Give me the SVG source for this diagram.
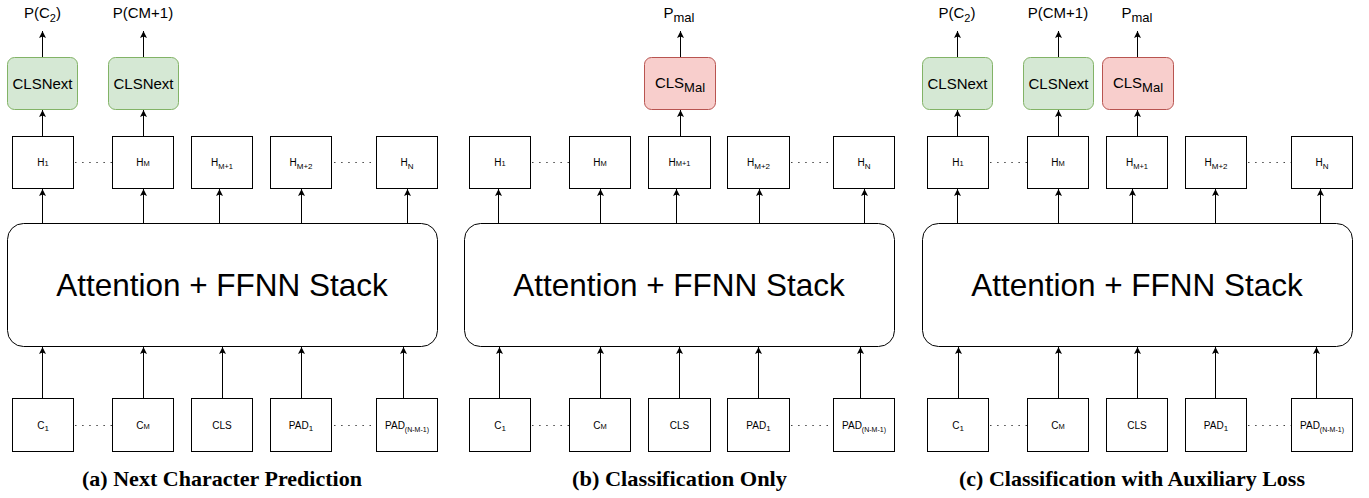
<svg xmlns="http://www.w3.org/2000/svg" width="1369" height="498" viewBox="0 0 1369 498">
<defs>
<marker id="ah" markerUnits="userSpaceOnUse" markerWidth="8" markerHeight="8" refX="7" refY="3.5" orient="auto">
<path d="M0,0 L7,3.5 L0,7 L1.5,3.5 z" fill="#000"/>
</marker>
<style>
.box{fill:#fff;stroke:#000;stroke-width:1}
.stack{fill:#fff;stroke:#000;stroke-width:1}
.green{fill:#d5e8d4;stroke:#82b366;stroke-width:1}
.red{fill:#f8cecc;stroke:#b85450;stroke-width:1}
text{font-family:"Liberation Sans",Arial,Helvetica,sans-serif;fill:#000;text-anchor:middle}
.s10{font-size:10px}
.s15{font-size:15px}
.big{font-size:31.5px}
.cap{font-family:"Liberation Serif","Times New Roman",serif;font-weight:bold;font-size:21px}
.edge{stroke:#000;stroke-width:1;fill:none;marker-end:url(#ah)}
.dot{stroke:#444;stroke-width:1.2;stroke-dasharray:1.5 5.6;fill:none}
</style>
</defs>

<!-- ================= Panel (a) ================= -->
<g id="panel-a">
<g id="a-out1"><text class="s15" x="42.5" y="18">P(C<tspan font-size="11" dy="4">2</tspan><tspan dy="-4">)</tspan></text></g>
<g id="a-out2"><text class="s15" x="143" y="18">P(CM+1)</text></g>
<g id="a-clsnext1"><rect class="green" x="7.5" y="57.5" width="70" height="52" rx="7"/><text class="s15" x="42.5" y="89">CLSNext</text></g>
<g id="a-clsnext2"><rect class="green" x="108.5" y="57.5" width="70" height="52" rx="7"/><text class="s15" x="143.5" y="89">CLSNext</text></g>
<g id="a-h1"><rect class="box" x="12.5" y="136.5" width="61" height="52"/><text class="s10" x="43" y="166">H<tspan font-size="7.5">1</tspan></text></g>
<g id="a-hm"><rect class="box" x="112.5" y="136.5" width="61" height="52"/><text class="s10" x="143" y="166">H<tspan font-size="7.5">M</tspan></text></g>
<g id="a-hm1"><rect class="box" x="191.5" y="136.5" width="61" height="52"/><text class="s10" x="222" y="166">H<tspan font-size="7.5" dy="3">M+1</tspan></text></g>
<g id="a-hm2"><rect class="box" x="270.5" y="136.5" width="61" height="52"/><text class="s10" x="301" y="166">H<tspan font-size="8" dy="3">M+2</tspan></text></g>
<g id="a-hn"><rect class="box" x="376.5" y="136.5" width="61" height="52"/><text class="s10" x="407" y="166">H<tspan font-size="8" dy="3">N</tspan></text></g>
<g id="a-stack"><rect class="stack" x="7.5" y="223.5" width="430" height="123" rx="16"/><text class="big" x="222" y="296">Attention + FFNN Stack</text></g>
<g id="a-c1"><rect class="box" x="12.5" y="398.5" width="61" height="53"/><text class="s10" x="43" y="429">C<tspan font-size="8" dy="2">1</tspan></text></g>
<g id="a-cm"><rect class="box" x="112.5" y="398.5" width="61" height="53"/><text class="s10" x="143" y="429">C<tspan font-size="7.5">M</tspan></text></g>
<g id="a-cls"><rect class="box" x="191.5" y="398.5" width="61" height="53"/><text class="s10" x="222" y="429">CLS</text></g>
<g id="a-pad1"><rect class="box" x="270.5" y="398.5" width="61" height="53"/><text class="s10" x="301" y="429">PAD<tspan font-size="8" dy="2">1</tspan></text></g>
<g id="a-padn"><rect class="box" x="376.5" y="398.5" width="61" height="53"/><text class="s10" x="407" y="429">PAD<tspan font-size="7" dy="3">(N-M-1)</tspan></text></g>
<g id="a-caption"><text class="cap" x="222" y="486" textLength="280" lengthAdjust="spacingAndGlyphs">(a) Next Character Prediction</text></g>
</g>

<!-- ================= Panel (b) ================= -->
<g id="panel-b">
<g id="b-out"><text class="s15" x="679" y="18">P<tspan font-size="13" dy="4">mal</tspan></text></g>
<g id="b-clsmal"><rect class="red" x="644.5" y="57.5" width="71" height="52" rx="7"/><text class="s15" x="680" y="88">CLS<tspan font-size="13" dy="4">Mal</tspan></text></g>
<g id="b-h1"><rect class="box" x="469.5" y="136.5" width="61" height="52"/><text class="s10" x="500" y="166">H<tspan font-size="7.5">1</tspan></text></g>
<g id="b-hm"><rect class="box" x="569.5" y="136.5" width="61" height="52"/><text class="s10" x="600" y="166">H<tspan font-size="7.5">M</tspan></text></g>
<g id="b-hm1"><rect class="box" x="648.5" y="136.5" width="62" height="52"/><text class="s10" x="679.5" y="166">H<tspan font-size="7.5">M+1</tspan></text></g>
<g id="b-hm2"><rect class="box" x="727.5" y="136.5" width="62" height="52"/><text class="s10" x="758.5" y="166">H<tspan font-size="8" dy="3">M+2</tspan></text></g>
<g id="b-hn"><rect class="box" x="833.5" y="136.5" width="61" height="52"/><text class="s10" x="864" y="166">H<tspan font-size="8" dy="3">N</tspan></text></g>
<g id="b-stack"><rect class="stack" x="464.5" y="223.5" width="430" height="123" rx="16"/><text class="big" x="679" y="296">Attention + FFNN Stack</text></g>
<g id="b-c1"><rect class="box" x="469.5" y="398.5" width="61" height="53"/><text class="s10" x="500" y="429">C<tspan font-size="8" dy="2">1</tspan></text></g>
<g id="b-cm"><rect class="box" x="569.5" y="398.5" width="61" height="53"/><text class="s10" x="600" y="429">C<tspan font-size="7.5">M</tspan></text></g>
<g id="b-cls"><rect class="box" x="648.5" y="398.5" width="62" height="53"/><text class="s10" x="679.5" y="429">CLS</text></g>
<g id="b-pad1"><rect class="box" x="727.5" y="398.5" width="62" height="53"/><text class="s10" x="758.5" y="429">PAD<tspan font-size="8" dy="2">1</tspan></text></g>
<g id="b-padn"><rect class="box" x="833.5" y="398.5" width="61" height="53"/><text class="s10" x="864" y="429">PAD<tspan font-size="7" dy="3">(N-M-1)</tspan></text></g>
<g id="b-caption"><text class="cap" x="679.5" y="486" textLength="215" lengthAdjust="spacingAndGlyphs">(b) Classification Only</text></g>
</g>

<!-- ================= Panel (c) ================= -->
<g id="panel-c">
<g id="c-out1"><text class="s15" x="957" y="18">P(C<tspan font-size="11" dy="4">2</tspan><tspan dy="-4">)</tspan></text></g>
<g id="c-out2"><text class="s15" x="1058" y="18">P(CM+1)</text></g>
<g id="c-out3"><text class="s15" x="1137" y="18">P<tspan font-size="13" dy="4">mal</tspan></text></g>
<g id="c-clsnext1"><rect class="green" x="922.5" y="57.5" width="70" height="52" rx="7"/><text class="s15" x="957.5" y="89">CLSNext</text></g>
<g id="c-clsnext2"><rect class="green" x="1023.5" y="57.5" width="70" height="52" rx="7"/><text class="s15" x="1058.5" y="89">CLSNext</text></g>
<g id="c-clsmal"><rect class="red" x="1102.5" y="57.5" width="71" height="52" rx="7"/><text class="s15" x="1138" y="88">CLS<tspan font-size="13" dy="4">Mal</tspan></text></g>
<g id="c-h1"><rect class="box" x="927.5" y="136.5" width="61" height="52"/><text class="s10" x="958" y="166">H<tspan font-size="7.5">1</tspan></text></g>
<g id="c-hm"><rect class="box" x="1027.5" y="136.5" width="61" height="52"/><text class="s10" x="1058" y="166">H<tspan font-size="7.5">M</tspan></text></g>
<g id="c-hm1"><rect class="box" x="1106.5" y="136.5" width="61" height="52"/><text class="s10" x="1137" y="166">H<tspan font-size="7.5" dy="3">M+1</tspan></text></g>
<g id="c-hm2"><rect class="box" x="1185.5" y="136.5" width="61" height="52"/><text class="s10" x="1216" y="166">H<tspan font-size="8" dy="3">M+2</tspan></text></g>
<g id="c-hn"><rect class="box" x="1291.5" y="136.5" width="61" height="52"/><text class="s10" x="1322" y="166">H<tspan font-size="8" dy="3">N</tspan></text></g>
<g id="c-stack"><rect class="stack" x="922.5" y="223.5" width="430" height="123" rx="16"/><text class="big" x="1137" y="296">Attention + FFNN Stack</text></g>
<g id="c-c1"><rect class="box" x="927.5" y="398.5" width="61" height="53"/><text class="s10" x="958" y="429">C<tspan font-size="8" dy="2">1</tspan></text></g>
<g id="c-cm"><rect class="box" x="1027.5" y="398.5" width="61" height="53"/><text class="s10" x="1058" y="429">C<tspan font-size="7.5">M</tspan></text></g>
<g id="c-cls"><rect class="box" x="1106.5" y="398.5" width="61" height="53"/><text class="s10" x="1137" y="429">CLS</text></g>
<g id="c-pad1"><rect class="box" x="1185.5" y="398.5" width="61" height="53"/><text class="s10" x="1216" y="429">PAD<tspan font-size="8" dy="2">1</tspan></text></g>
<g id="c-padn"><rect class="box" x="1291.5" y="398.5" width="61" height="53"/><text class="s10" x="1322" y="429">PAD<tspan font-size="7" dy="3">(N-M-1)</tspan></text></g>
<g id="c-caption"><text class="cap" x="1132" y="486" textLength="346" lengthAdjust="spacingAndGlyphs">(c) Classification with Auxiliary Loss</text></g>
</g>

<!-- ================= Connectors ================= -->
<g id="connectors">
<!-- panel a -->
<path class="edge" d="M42.5,57 V31"/>
<path class="edge" d="M143.5,57 V31"/>
<path class="edge" d="M42.5,136 V110"/>
<path class="edge" d="M143.5,136 V110"/>
<path class="edge" d="M42.5,223 V189"/>
<path class="edge" d="M143.5,223 V189"/>
<path class="edge" d="M219.5,223 V189"/>
<path class="edge" d="M301.5,223 V189"/>
<path class="edge" d="M407.5,223 V189"/>
<path class="edge" d="M42.5,398 V347"/>
<path class="edge" d="M143.5,398 V347"/>
<path class="edge" d="M222.5,398 V347"/>
<path class="edge" d="M301.5,398 V347"/>
<path class="edge" d="M403.5,398 V347"/>
<path class="dot" d="M75,162.5 H112 M334,162.5 H376 M75,425.5 H112 M334,425.5 H376"/>
<!-- panel b -->
<path class="edge" d="M680.5,57 V31"/>
<path class="edge" d="M680.5,136 V110"/>
<path class="edge" d="M498.5,223 V189"/>
<path class="edge" d="M600.5,223 V189"/>
<path class="edge" d="M676.5,223 V189"/>
<path class="edge" d="M759.5,223 V189"/>
<path class="edge" d="M864.5,223 V189"/>
<path class="edge" d="M499.5,398 V347"/>
<path class="edge" d="M600.5,398 V347"/>
<path class="edge" d="M679.5,398 V347"/>
<path class="edge" d="M758.5,398 V347"/>
<path class="edge" d="M860.5,398 V347"/>
<path class="dot" d="M532,162.5 H569 M791,162.5 H833 M532,425.5 H569 M791,425.5 H833"/>
<!-- panel c -->
<path class="edge" d="M957.5,57 V31"/>
<path class="edge" d="M1058.5,57 V31"/>
<path class="edge" d="M1137.5,57 V31"/>
<path class="edge" d="M957.5,136 V110"/>
<path class="edge" d="M1058.5,136 V110"/>
<path class="edge" d="M1137.5,136 V110"/>
<path class="edge" d="M957.5,223 V189"/>
<path class="edge" d="M1058.5,223 V189"/>
<path class="edge" d="M1132.5,223 V189"/>
<path class="edge" d="M1215.5,223 V189"/>
<path class="edge" d="M1320.5,223 V189"/>
<path class="edge" d="M958.5,398 V347"/>
<path class="edge" d="M1058.5,398 V347"/>
<path class="edge" d="M1137.5,398 V347"/>
<path class="edge" d="M1215.5,398 V347"/>
<path class="edge" d="M1316.5,398 V347"/>
<path class="dot" d="M990,162.5 H1027 M1248,162.5 H1291 M990,425.5 H1027 M1248,425.5 H1291"/>
</g>
</svg>
